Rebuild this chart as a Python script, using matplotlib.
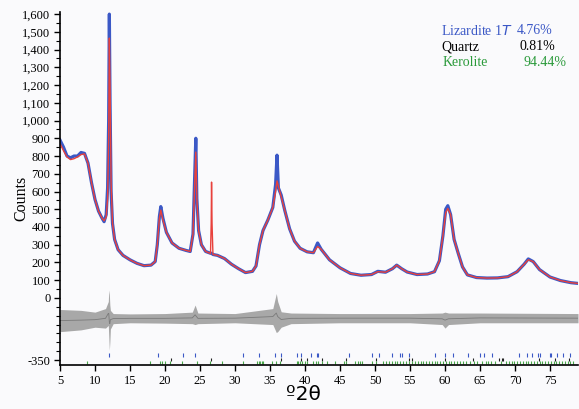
import matplotlib
matplotlib.use("Agg")
import matplotlib.pyplot as plt
from matplotlib.ticker import MultipleLocator, FixedLocator, FuncFormatter

tth = [5.0, 5.5, 6.0, 6.5, 7.0, 7.5, 8.0, 8.5, 9.0, 9.5, 10.0, 10.5, 11.0, 11.3,
       11.6, 11.8, 11.95, 12.05, 12.15, 12.3, 12.5, 12.8, 13.3, 14.0, 15.0, 16.0,
       17.0, 18.0, 18.6, 18.9, 19.2, 19.4, 19.7, 20.2, 21.0, 22.0, 23.0, 23.6,
       24.0, 24.25, 24.4, 24.55, 24.8, 25.2, 25.8, 26.5, 26.6, 26.65, 26.72, 26.85,
       27.5, 28.5, 29.5, 30.5, 31.5, 32.5, 33.0, 33.5, 34.0, 34.7, 35.4, 35.8,
       36.0, 36.2, 36.6, 37.1, 37.8, 38.5, 39.3, 40.3, 41.2, 41.8, 42.3, 43.5,
       45.0, 46.5, 48.0, 49.5, 50.4, 51.5, 52.5, 53.1, 53.8, 54.6, 56.0, 57.5,
       58.5, 59.2, 59.7, 60.1, 60.4, 60.8, 61.3, 61.9, 62.5, 63.2, 64.5, 66.0,
       67.5, 69.0, 70.3, 71.3, 71.9, 72.6, 73.5, 75.0, 76.5, 78.0, 79.0]
calc = [870, 830, 795, 780, 785, 795, 808, 812, 760, 650, 555, 490, 450, 435,
        456, 560, 900, 1465, 1200, 650, 420, 330, 272, 240, 215, 195,
        182, 185, 205, 300, 450, 495, 440, 370, 310, 280, 268, 262,
        360, 650, 822, 560, 380, 300, 262, 250, 420, 653, 420, 245,
        240, 222, 190, 165, 143, 150, 180, 300, 380, 440, 510, 600,
        660, 630, 570, 495, 390, 320, 280, 260, 255, 290, 275, 215,
        170, 138, 128, 132, 148, 145, 165, 185, 165, 146, 132, 135,
        148, 210, 350, 480, 505, 470, 330, 250, 175, 130, 115, 112,
        113, 120, 148, 190, 215, 205, 160, 118, 98, 86, 82]
obs = [890, 850, 800, 790, 800, 800, 820, 815, 760, 650, 555, 490, 450, 430,
       470, 620, 1000, 1600, 1100, 600, 420, 330, 272, 240, 215, 195,
       182, 185, 205, 300, 460, 515, 450, 370, 310, 280, 268, 262,
       360, 700, 900, 560, 380, 300, 262, 252, 252, 252, 250, 245,
       240, 222, 190, 165, 143, 150, 180, 300, 380, 440, 510, 640,
       805, 620, 580, 495, 390, 320, 280, 260, 255, 310, 275, 215,
       170, 138, 128, 132, 150, 145, 165, 185, 165, 146, 132, 135,
       148, 210, 350, 500, 520, 470, 330, 250, 175, 130, 115, 112,
       113, 120, 148, 190, 220, 205, 160, 118, 98, 86, 82]

# difference curve envelope (already offset)
diff_x = [5, 8, 10, 11.5, 11.9, 11.97, 12.05, 12.12, 12.2, 12.6, 15, 20, 23.9, 24.3,
          24.7, 30, 35.4, 35.9, 36.1, 36.6, 38, 45, 55, 59.6, 60.0, 60.5, 65, 79]
diff_hi = [-65, -70, -80, -60, -20, 45, 20, -40, -70, -88, -90, -88, -80, -40,
           -85, -88, -60, 25, -20, -78, -85, -88, -88, -85, -80, -85, -85, -88]
diff_lo = [-190, -180, -165, -170, -155, -220, -295, -250, -175, -145, -140, -142, -145, -150,
           -145, -140, -150, -195, -190, -165, -145, -140, -140, -150, -170, -150, -140, -140]

# phase reflection positions
lizardite = [12.05, 19.05, 22.6, 24.3, 31.1, 33.4, 35.7, 36.6, 38.8, 39.4, 40.8, 41.7,
             41.9, 46.3, 49.5, 50.5, 52.4, 53.6, 53.8, 54.8, 58.6, 60.0, 61.2, 63.3,
             65.0, 65.5, 66.7, 70.5, 71.7, 72.4, 73.3, 73.6, 75.0, 75.2, 76.0, 76.9, 77.9]
quartz = [20.86, 26.64, 36.54, 39.47, 40.29, 42.45, 45.79, 50.14, 54.87, 55.33,
          59.96, 64.04, 67.74, 68.14, 68.31, 73.47, 75.66, 77.68]
kerolite = [8.8, 17.9, 19.3, 19.5, 20.0, 20.7, 22.4, 24.5, 26.4, 28.1, 31.1, 33.2, 33.4,
            33.6, 33.8, 34.0, 35.3, 35.9, 36.4, 38.8, 39.0, 39.3, 39.6, 40.0, 40.3, 41.2,
            41.5, 41.9, 42.4, 43.1, 44.3, 45.5, 45.8, 47.1, 47.5, 47.9, 48.2, 49.6, 50.1,
            51.2, 51.6, 52.0, 52.4, 52.8, 53.2, 53.6, 54.0, 54.4, 54.9, 55.3, 55.7, 56.1,
            56.5, 56.9, 57.3, 57.7, 58.1, 58.5, 58.9, 59.3, 59.7, 60.1, 60.5, 60.9, 61.3,
            61.7, 62.1, 62.5, 63.0, 63.6, 64.1, 64.5, 65.3, 65.8, 66.2, 66.6, 67.1, 68.0,
            68.7, 69.1, 69.5, 69.9, 70.3, 70.7, 71.1, 71.5, 71.9, 72.3, 72.7, 73.1, 73.5,
            73.9, 74.3, 74.7, 75.1, 75.5, 75.9, 76.3, 76.7, 77.1, 77.5, 77.9, 78.3]

phases = ["Lizardite 1", "Quartz", "Kerolite"]
fractions = ["4.76%", "0.81%", "94.44%"]

W, H = 579, 409
bg = "#fafafc"
blue = "#3b58c6"
red = "#e8413c"
green = "#2a9a3a"

fig = plt.figure(figsize=(W / 100, H / 100), dpi=100, facecolor=bg)
ax = fig.add_axes([60 / W, 44 / H, 518 / W, 353 / H], facecolor=bg)

ax.plot(tth, obs, color=blue, lw=2.3, solid_joinstyle="round")
ax.plot(tth, calc, color=red, lw=1.0)
ax.fill_between(diff_x, diff_lo, diff_hi, color="#a8a8a8", lw=0)
ax.plot(diff_x, [(a + b) / 2 for a, b in zip(diff_hi, diff_lo)], color="#7a7a7a", lw=0.6)

ax.vlines(lizardite, -332, -312, color=blue, lw=0.8)
ax.vlines(quartz, -356, -338, color="#222222", lw=0.8)
ax.vlines(kerolite, -374, -358, color="#4aa84a", lw=0.8)

ax.set_xlim(5, 79)
ax.set_ylim(-378, 1612)
ax.xaxis.set_major_locator(MultipleLocator(5))
ax.yaxis.set_major_locator(FixedLocator([-350] + list(range(0, 1700, 100))))
ax.yaxis.set_minor_locator(MultipleLocator(50))
ax.yaxis.set_major_formatter(FuncFormatter(lambda v, p: f"{v:,.0f}"))

for s in ["top", "right"]:
    ax.spines[s].set_visible(False)
for s in ["left", "bottom"]:
    ax.spines[s].set_linewidth(1.2)
ax.tick_params(axis="both", which="major", direction="out", length=4, width=1,
               labelsize=9, pad=3)
ax.tick_params(axis="y", which="minor", direction="out", length=3, width=0.8)
for lab in ax.get_xticklabels() + ax.get_yticklabels():
    lab.set_fontfamily("Liberation Serif")

fig.text(21 / W, 1 - 198 / H, "Counts", rotation=90, ha="center", va="center",
         fontsize=11.5, family="Liberation Serif")
fig.text(303 / W, 1 - 395 / H, "º2θ", ha="center", va="center", fontsize=14.5,
         family="DejaVu Sans")

# phase fractions
fig.text(441 / W, 1 - 31 / H, "Lizardite 1$\\it{T}$", color=blue, fontsize=10,
         family="Liberation Serif", va="center")
fig.text(517 / W, 1 - 31 / H, fractions[0], color=blue, fontsize=10,
         family="Liberation Serif", va="center")
fig.text(441 / W, 1 - 47 / H, phases[1], color="black", fontsize=10,
         family="Liberation Serif", va="center")
fig.text(520 / W, 1 - 47 / H, fractions[1], color="black", fontsize=10,
         family="Liberation Serif", va="center")
fig.text(443 / W, 1 - 63 / H, phases[2], color=green, fontsize=10,
         family="Liberation Serif", va="center")
fig.text(524 / W, 1 - 63 / H, fractions[2], color=green, fontsize=10,
         family="Liberation Serif", va="center")

fig.savefig("out.png", dpi=100, facecolor=bg)
